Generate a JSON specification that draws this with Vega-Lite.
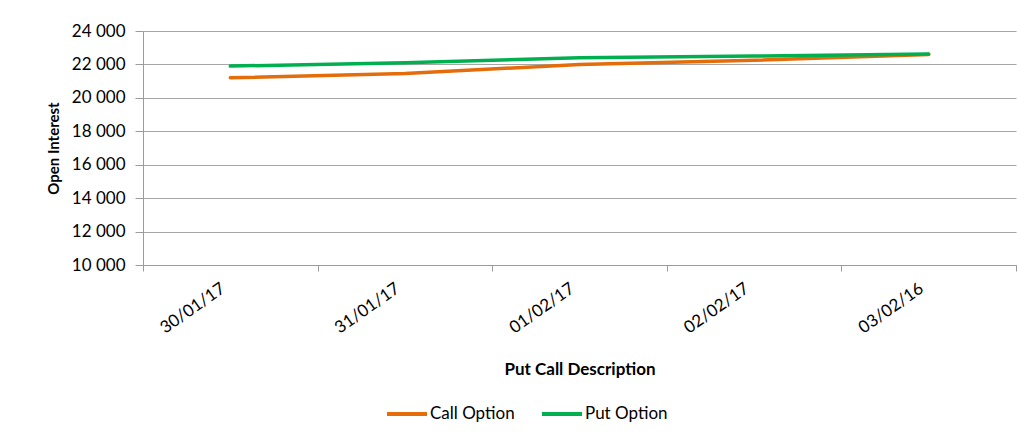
{
  "$schema": "https://vega.github.io/schema/vega-lite/v6.json",
  "width": 873,
  "height": 234,
  "autosize": {"type": "none"},
  "padding": {"left": 143, "top": 31, "right": 1, "bottom": 170},
  "background": "white",
  "config": {
    "font": "Lato",
    "view": {"stroke": null},
    "axis": {"labelColor": "#000000", "titleColor": "#000000", "labelFont": "Lato", "titleFont": "Lato"}
  },
  "data": {
    "values": [
      {"date": "30/01/17", "series": "Call Option", "value": 21200},
      {"date": "31/01/17", "series": "Call Option", "value": 21450},
      {"date": "01/02/17", "series": "Call Option", "value": 22000},
      {"date": "02/02/17", "series": "Call Option", "value": 22250},
      {"date": "03/02/16", "series": "Call Option", "value": 22600},
      {"date": "30/01/17", "series": "Put Option", "value": 21900},
      {"date": "31/01/17", "series": "Put Option", "value": 22100},
      {"date": "01/02/17", "series": "Put Option", "value": 22400},
      {"date": "02/02/17", "series": "Put Option", "value": 22500},
      {"date": "03/02/16", "series": "Put Option", "value": 22620}
    ]
  },
  "mark": {"type": "line", "strokeWidth": 3.5, "strokeCap": "round"},
  "encoding": {
    "x": {
      "field": "date",
      "type": "ordinal",
      "sort": null,
      "scale": {"type": "band", "paddingInner": 0, "paddingOuter": 0},
      "axis": {
        "title": "Put Call Description",
        "titleFontSize": 17,
        "titleFontWeight": "bold",
        "titlePadding": 26,
        "labelFontSize": 17,
        "labelAngle": -35,
        "labelAlign": "right",
        "labelBaseline": "top",
        "labelPadding": 9,
        "labelOffset": -12,
        "tickBand": "extent",
        "grid": false,
        "domainColor": "#9B9B9B",
        "tickColor": "#9B9B9B",
        "tickSize": 6
      }
    },
    "y": {
      "field": "value",
      "type": "quantitative",
      "scale": {"domain": [10000, 24000], "nice": false, "zero": false},
      "axis": {
        "title": "Open Interest",
        "titleFontSize": 15,
        "titleFontWeight": "bold",
        "titlePadding": 10,
        "values": [10000, 12000, 14000, 16000, 18000, 20000, 22000, 24000],
        "labelExpr": "replace(format(datum.value, ',d'), ',', ' ')",
        "labelFontSize": 17,
        "labelPadding": 10,
        "tickSize": 8,
        "tickColor": "#9B9B9B",
        "domainColor": "#9B9B9B",
        "gridColor": "#A6A6A6",
        "gridWidth": 1.2
      }
    },
    "color": {
      "field": "series",
      "type": "nominal",
      "scale": {"domain": ["Call Option", "Put Option"], "range": ["#E46C0A", "#00B050"]},
      "legend": {
        "title": null,
        "orient": "none",
        "legendX": 242,
        "legendY": 361,
        "direction": "horizontal",
        "symbolType": "stroke",
        "symbolSize": 1600,
        "symbolStrokeWidth": 4,
        "labelFontSize": 17,
        "labelColor": "#000000",
        "labelOffset": 1,
        "columnPadding": 19
      }
    }
  }
}
